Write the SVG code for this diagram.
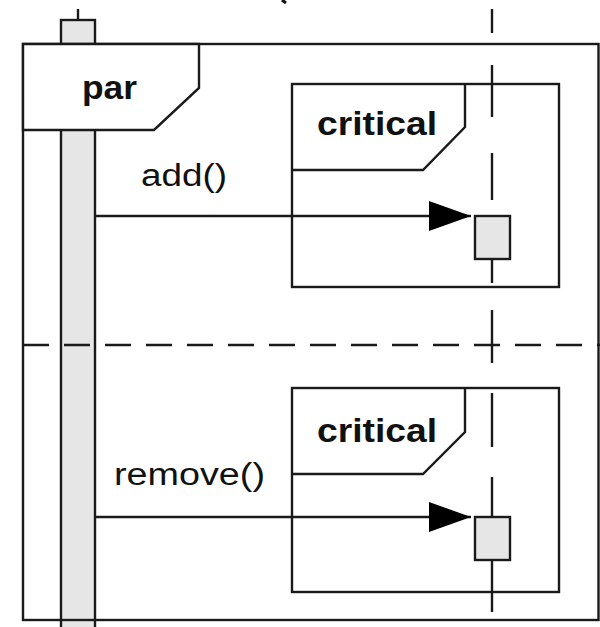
<svg xmlns="http://www.w3.org/2000/svg" width="600" height="627" viewBox="0 0 600 627">
<defs>
<style>
.ln{fill:none;stroke:#1a1a1a;stroke-width:2.4}
.act{fill:#e6e6e6;stroke:#1a1a1a;stroke-width:2.4}
.tab{fill:#fff;stroke:#1a1a1a;stroke-width:2.4;stroke-linejoin:miter}
.kw{font-family:"Liberation Sans",Arial,sans-serif;font-weight:bold;font-size:34px;fill:#111}
.msg{font-family:"Liberation Sans",Arial,sans-serif;font-size:31px;fill:#111}
.dash{fill:none;stroke:#1a1a1a;stroke-width:2.6;stroke-dasharray:26 15}
</style>
<marker id="arr" viewBox="0 0 42 30" refX="42" refY="15" markerWidth="42" markerHeight="30" markerUnits="userSpaceOnUse" orient="auto">
<path d="M0,0 L42,15 L0,30 Z" fill="#000"/>
</marker>
</defs>
<rect width="600" height="627" fill="#fff"/>
<path d="M282,0 L286,3" stroke="#111" stroke-width="3"/>

<g id="lifeline-left">
<line class="ln" x1="78" y1="9" x2="78" y2="20"/>
<rect class="act" x="61" y="20" width="34" height="620"/>
</g>

<g id="lifeline-right">
<path class="ln" stroke-width="2.6" d="M492,9V33M492,65V117M492,153V200M492,259V283M492,310V363M492,393V447M492,477V517M492,559V612"/>
</g>

<g id="par">
<rect class="ln" x="23" y="44" width="575.5" height="576"/>
<path class="tab" d="M23,44 H199 V88 L154,130 H23 Z"/>
<text class="kw" x="82" y="99" textLength="55" lengthAdjust="spacingAndGlyphs">par</text>
<line class="dash" x1="23" y1="345" x2="600" y2="345"/>
</g>

<g id="critical1">
<rect class="ln" x="292" y="84" width="267" height="203"/>
<path class="ln" d="M465,84 V127 L423,170 H292"/>
<text class="kw" x="317" y="135" textLength="120" lengthAdjust="spacingAndGlyphs">critical</text>
</g>

<g id="critical2">
<rect class="ln" x="292" y="388" width="267" height="204"/>
<path class="ln" d="M465,388 V432 L423,474 H292"/>
<text class="kw" x="317" y="442" textLength="120" lengthAdjust="spacingAndGlyphs">critical</text>
</g>

<g id="act-add">
<rect class="act" x="475" y="216" width="35" height="43"/>
</g>
<g id="act-remove">
<rect class="act" x="475" y="517" width="35" height="43"/>
</g>

<g id="connectors">
<line class="ln" x1="95" y1="216" x2="471" y2="216" marker-end="url(#arr)"/>
<text class="msg" x="141" y="186" textLength="86" lengthAdjust="spacingAndGlyphs">add()</text>
<line class="ln" x1="95" y1="517" x2="471" y2="517" marker-end="url(#arr)"/>
<text class="msg" x="114" y="485" textLength="151" lengthAdjust="spacingAndGlyphs">remove()</text>
</g>
</svg>
